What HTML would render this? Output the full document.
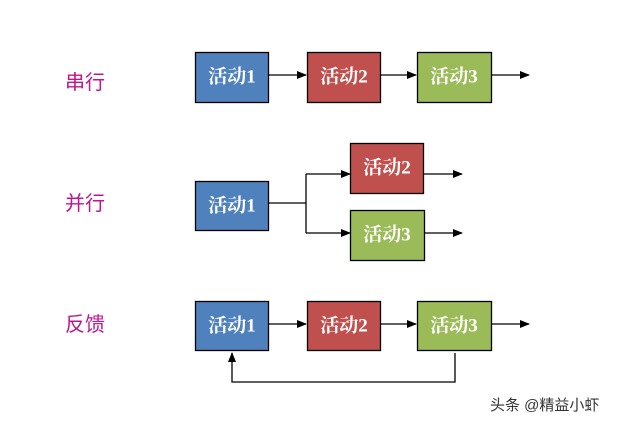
<!DOCTYPE html>
<html><head><meta charset="utf-8"><style>
html,body{margin:0;padding:0;background:#fff;}
svg{display:block}
.b{font-family:"Liberation Serif","Noto Serif CJK SC",serif;font-size:19px;font-weight:bold;fill:#fff;text-anchor:middle;dominant-baseline:central}
.l{font-family:"Liberation Sans","Noto Sans CJK SC",sans-serif;font-size:20px;fill:#c0158f;dominant-baseline:central}
</style></head><body>
<svg width="618" height="423" viewBox="0 0 618 423">
<defs><marker id="a" markerWidth="10" markerHeight="8" refX="9" refY="4" orient="auto" markerUnits="userSpaceOnUse"><path d="M0,0 L10,4 L0,8z" fill="#000"/></marker></defs>
<g stroke="#000" stroke-width="1.3" fill="none">
<line x1="268" y1="75" x2="306" y2="75" marker-end="url(#a)"/>
<line x1="380" y1="75" x2="416" y2="75" marker-end="url(#a)"/>
<line x1="491" y1="75" x2="529" y2="75" marker-end="url(#a)"/>
<line x1="268" y1="203" x2="306" y2="203"/>
<line x1="306" y1="174" x2="306" y2="233"/>
<line x1="306" y1="174" x2="350" y2="174" marker-end="url(#a)"/>
<line x1="306" y1="233" x2="350" y2="233" marker-end="url(#a)"/>
<line x1="424" y1="174" x2="462" y2="174" marker-end="url(#a)"/>
<line x1="424" y1="233" x2="462" y2="233" marker-end="url(#a)"/>
<line x1="268" y1="324" x2="306" y2="324" marker-end="url(#a)"/>
<line x1="380" y1="324" x2="416" y2="324" marker-end="url(#a)"/>
<line x1="491" y1="324" x2="529" y2="324" marker-end="url(#a)"/>
<polyline points="455,353 455,382 232,382 232,353" marker-end="url(#a)"/>
</g>
<g stroke="#000" stroke-width="1.3">
<rect x="195.5" y="52.5" width="73" height="50" fill="#4f81bd"/>
<rect x="307.5" y="52.5" width="73" height="50" fill="#c0504d"/>
<rect x="417.5" y="52.5" width="74" height="50" fill="#9bbb59"/>
<rect x="195.5" y="181.5" width="73" height="49" fill="#4f81bd"/>
<rect x="350.5" y="143.5" width="73" height="50" fill="#c0504d"/>
<rect x="350.5" y="210.5" width="74" height="50" fill="#9bbb59"/>
<rect x="195.5" y="301.5" width="73" height="49" fill="#4f81bd"/>
<rect x="307.5" y="301.5" width="73" height="49" fill="#c0504d"/>
<rect x="417.5" y="301.5" width="74" height="49" fill="#9bbb59"/>
</g>
<text class="b" x="232" y="77">活动1</text>
<text class="b" x="344" y="77">活动2</text>
<text class="b" x="454" y="77">活动3</text>
<text class="b" x="232" y="206">活动1</text>
<text class="b" x="387" y="168">活动2</text>
<text class="b" x="387" y="235">活动3</text>
<text class="b" x="232" y="326">活动1</text>
<text class="b" x="344" y="326">活动2</text>
<text class="b" x="454" y="326">活动3</text>
<text class="l" x="65" y="83">串行</text>
<text class="l" x="65" y="204">并行</text>
<text class="l" x="65" y="325">反馈</text>
<text x="490" y="410" font-family="Liberation Sans,Noto Sans CJK SC,sans-serif" font-size="15" fill="#333">头条 @精益小虾</text>
</svg>
</body></html>
